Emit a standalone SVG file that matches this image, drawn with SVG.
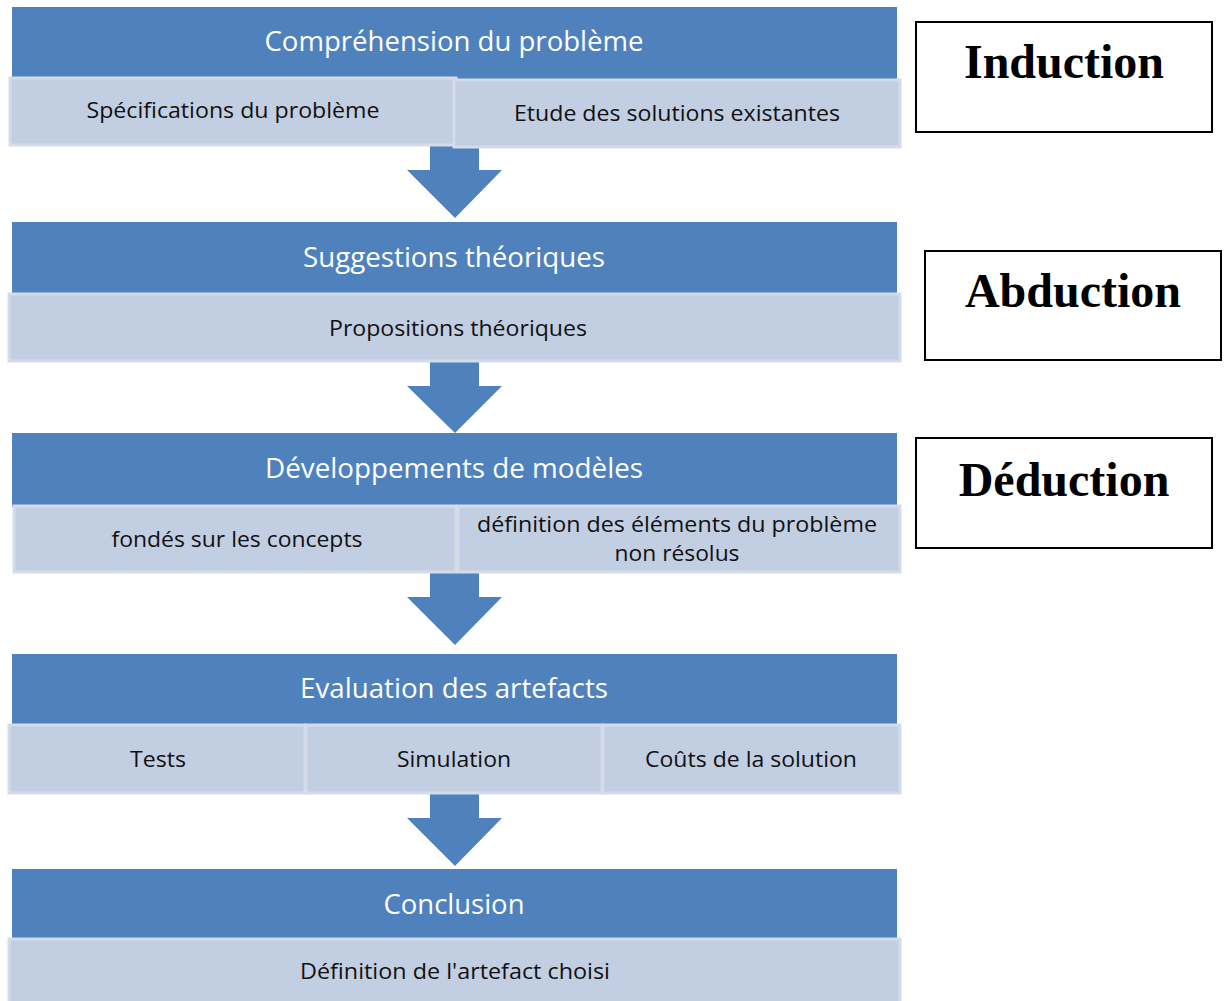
<svg xmlns="http://www.w3.org/2000/svg" width="1224" height="1001" viewBox="0 0 1224 1001">
<style>
.hdr{fill:#4f81bd}
.sub{fill:#c2cee2;stroke:#d4dcea;stroke-width:3}
.arr{fill:#4f81bd}
.ht{font-family:"Open Sans","Liberation Sans",sans-serif;font-size:27px;fill:#ffffff;text-anchor:middle}
.st{font-family:"Open Sans","Liberation Sans",sans-serif;font-size:22px;fill:#111111;text-anchor:middle}
.lbox{fill:#ffffff;stroke:#000000;stroke-width:2}
.lt{font-family:"Liberation Serif","Times New Roman",serif;font-weight:bold;font-size:48px;fill:#000000;text-anchor:middle}
</style>
<rect width="1224" height="1001" fill="#ffffff"/>
<g id="connectors">
<path class="arr" d="M430,146 H479 V170 H502 L455,218 L407,170 H430 Z"/>
<path class="arr" d="M430,362 H479 V386 H502 L455,433 L407,386 H430 Z"/>
<path class="arr" d="M430,573 H479 V597 H502 L455,645 L407,597 H430 Z"/>
<path class="arr" d="M430,794 H479 V818 H502 L455,866 L407,818 H430 Z"/>
</g>
<g id="stage1">
<rect class="hdr" x="12" y="7" width="885" height="72"/>
<rect class="sub" x="10" y="78" width="446" height="67"/>
<rect class="sub" x="454" y="80" width="446" height="67"/>
<text class="ht" x="454" y="51" textLength="379" lengthAdjust="spacingAndGlyphs">Compréhension du problème</text>
<text class="st" x="233" y="118" textLength="293" lengthAdjust="spacingAndGlyphs">Spécifications du problème</text>
<text class="st" x="677" y="121" textLength="326" lengthAdjust="spacingAndGlyphs">Etude des solutions existantes</text>
</g>
<g id="stage2">
<rect class="hdr" x="12" y="222" width="885" height="73"/>
<rect class="sub" x="9" y="294" width="891" height="67"/>
<text class="ht" x="454" y="267" textLength="302" lengthAdjust="spacingAndGlyphs">Suggestions théoriques</text>
<text class="st" x="458" y="336" textLength="258" lengthAdjust="spacingAndGlyphs">Propositions théoriques</text>
</g>
<g id="stage3">
<rect class="hdr" x="12" y="433" width="885" height="74"/>
<rect class="sub" x="14" y="506" width="442" height="66"/>
<rect class="sub" x="458" y="506" width="442" height="66"/>
<text class="ht" x="454" y="478" textLength="378" lengthAdjust="spacingAndGlyphs">Développements de modèles</text>
<text class="st" x="237" y="547" textLength="251" lengthAdjust="spacingAndGlyphs">fondés sur les concepts</text>
<text class="st" x="677" y="532" textLength="400" lengthAdjust="spacingAndGlyphs">définition des éléments du problème</text>
<text class="st" x="677" y="561" textLength="125" lengthAdjust="spacingAndGlyphs">non résolus</text>
</g>
<g id="stage4">
<rect class="hdr" x="12" y="654" width="885" height="72"/>
<rect class="sub" x="9" y="725" width="296" height="68"/>
<rect class="sub" x="306" y="725" width="296" height="68"/>
<rect class="sub" x="603" y="725" width="297" height="68"/>
<text class="ht" x="454" y="698" textLength="308" lengthAdjust="spacingAndGlyphs">Evaluation des artefacts</text>
<text class="st" x="158" y="767" textLength="56" lengthAdjust="spacingAndGlyphs">Tests</text>
<text class="st" x="454" y="767" textLength="114" lengthAdjust="spacingAndGlyphs">Simulation</text>
<text class="st" x="751" y="767" textLength="212" lengthAdjust="spacingAndGlyphs">Coûts de la solution</text>
</g>
<g id="stage5">
<rect class="hdr" x="12" y="869" width="885" height="71"/>
<rect class="sub" x="9" y="939" width="891" height="66"/>
<text class="ht" x="454" y="914" textLength="141" lengthAdjust="spacingAndGlyphs">Conclusion</text>
<text class="st" x="455" y="979" textLength="310" lengthAdjust="spacingAndGlyphs">Définition de l'artefact choisi</text>
</g>
<g id="induction">
<rect class="lbox" x="916" y="22" width="296" height="110"/>
<text class="lt" x="1064" y="78">Induction</text>
</g>
<g id="abduction">
<rect class="lbox" x="925" y="251" width="296" height="109"/>
<text class="lt" x="1073" y="307">Abduction</text>
</g>
<g id="deduction">
<rect class="lbox" x="916" y="438" width="296" height="110"/>
<text class="lt" x="1064" y="496">Déduction</text>
</g>
</svg>
